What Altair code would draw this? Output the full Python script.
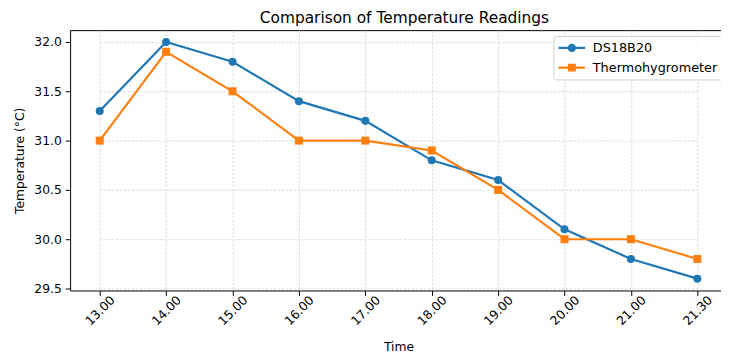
import altair as alt
import pandas as pd

times = ["13.00", "14.00", "15.00", "16.00", "17.00", "18.00", "19.00", "20.00", "21.00", "21.30"]
ds18b20 = [31.3, 32.0, 31.8, 31.4, 31.2, 30.8, 30.6, 30.1, 29.8, 29.6]
thermo = [31.0, 31.9, 31.5, 31.0, 31.0, 30.9, 30.5, 30.0, 30.0, 29.8]
series = ["DS18B20", "Thermohygrometer"]
colors = ["#1f77b4", "#ff7f0e"]
y_ticks = [29.5, 30.0, 30.5, 31.0, 31.5, 32.0]

rows = []
for t, v in zip(times, ds18b20):
    rows.append({"Time": t, "Temp": v, "Sensor": series[0], "Key": series[0]})
for t, v in zip(times, thermo):
    rows.append({"Time": t, "Temp": v, "Sensor": series[1], "Key": series[1]})
df = pd.DataFrame(rows)

FONT = "DejaVu Sans"

# legend glyphs: a short line with a marker on it (drawn to the right of the symbol centre)
bar = "M-1,-0.16H3V0.16H-1Z"
circle_path = bar + "M1.62,0A0.62,0.62 0 1,1 0.38,0A0.62,0.62 0 1,1 1.62,0Z"
square_path = bar + "M0.4,-0.6L1.6,-0.6L1.6,0.6L0.4,0.6Z"

legend = alt.Legend(
    title=None,
    orient="none",
    legendX=490,
    legendY=6,
    labelFont=FONT,
    labelFontSize=13.0,
    labelColor="black",
    labelOffset=21,
    labelLimit=300,
    symbolSize=182,
    symbolOpacity=1,
    symbolStrokeWidth=0,
    rowPadding=6,
    padding=5,
    strokeColor="#d0d0d0",
    fillColor="rgba(255,255,255,0.8)",
    cornerRadius=3,
)

grid_kw = dict(grid=True, gridColor="#c4c4c4", gridDash=[2.5, 1.5], gridWidth=0.6)

x_enc = alt.X(
    "Time:N",
    sort=times,
    scale=alt.Scale(type="point", range=[30, 636], padding=0),
    axis=alt.Axis(
        title="Time",
        titleFont=FONT,
        titleFontSize=12.5,
        titleFontWeight="normal",
        titleColor="black",
        titleX=333,
        titlePadding=14,
        labelFont=FONT,
        labelFontSize=12.5,
        labelColor="black",
        labelAngle=315,
        labelAlign="center",
        labelBaseline="middle",
        labelPadding=15,
        tickColor="black",
        tickSize=5,
        domain=False,
        **grid_kw,
    ),
)
y_enc = alt.Y(
    "Temp:Q",
    scale=alt.Scale(domain=[29.48, 32.12], nice=False, zero=False),
    axis=alt.Axis(
        title="Temperature (°C)",
        titleFont=FONT,
        titleFontSize=12.5,
        titleFontWeight="normal",
        titleColor="black",
        titlePadding=7,
        values=y_ticks,
        format=".1f",
        labelFont=FONT,
        labelFontSize=12.5,
        labelColor="black",
        labelPadding=4,
        tickColor="black",
        tickSize=5,
        domain=False,
        **grid_kw,
    ),
)
color_enc = alt.Color(
    "Sensor:N",
    scale=alt.Scale(domain=series, range=colors),
    legend=None,
)

lines = alt.Chart(df).mark_line(strokeWidth=2.2).encode(
    x=x_enc, y=y_enc, color=color_enc, detail="Sensor:N"
)
points = alt.Chart(df).mark_point(filled=True, opacity=1, size=66).encode(
    x=x_enc,
    y=y_enc,
    color=color_enc,
    shape=alt.Shape(
        "Sensor:N",
        scale=alt.Scale(domain=series, range=["circle", "square"]),
        legend=None,
    ),
)
legend_layer = alt.Chart(df).mark_point(filled=True, opacity=0, size=0).encode(
    x=x_enc,
    y=y_enc,
    color=alt.Color("Key:N", scale=alt.Scale(domain=series, range=colors), legend=legend),
    shape=alt.Shape("Key:N", scale=alt.Scale(domain=series, range=[circle_path, square_path]), legend=legend),
)

chart = (
    alt.layer(lines, points, legend_layer)
    .resolve_scale(color="independent", shape="independent")
    .properties(
        width=660,
        height=264,
        background="white",
        title=alt.Title(
            "Comparison of Temperature Readings",
            font=FONT,
            fontSize=15.6,
            fontWeight="normal",
            color="black",
            anchor="middle",
            dx=9,
            offset=4,
        ),
        autosize=alt.AutoSizeParams(type="none"),
        padding={"left": 63, "top": 20, "right": 0, "bottom": 66},
    )
    .configure_view(stroke="black", strokeWidth=1)
)

chart.save("out.html", embed_options={"renderer": "svg", "actions": False})
